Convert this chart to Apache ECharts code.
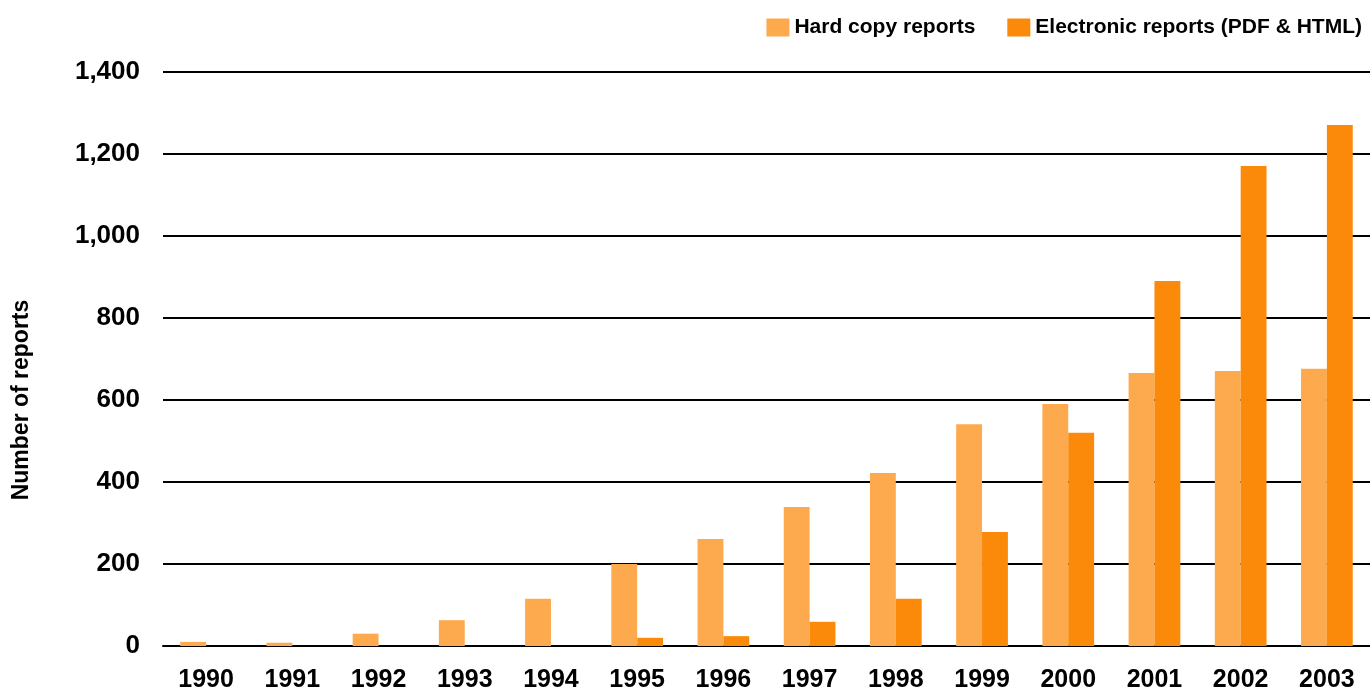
<!DOCTYPE html>
<html><head><meta charset="utf-8">
<script src="https://cdn.jsdelivr.net/npm/echarts@6/dist/echarts.min.js"></script>
<style>html,body{margin:0;padding:0;background:#fff}#c{width:1370px;height:697px}</style>
</head><body><div id="c"></div>
<script>
const years = ['1990','1991','1992','1993','1994','1995','1996','1997','1998','1999','2000','2001','2002','2003'];
const hardCopy = [10, 8, 30, 63, 115, 200, 261, 339, 422, 541, 590, 666, 671, 676];
const electronic = [0, 0, 0, 0, 0, 20, 24, 59, 115, 278, 520, 890, 1171, 1271];
const yTicks = [0, 200, 400, 600, 800, 1000, 1200, 1400];

const FONT = 'Liberation Sans, Arial, sans-serif';
const chart = echarts.init(document.getElementById('c'), null, {renderer:'canvas'});
chart.setOption({
  animation: false,
  backgroundColor: '#fff',
  textStyle: {fontFamily: FONT},
  legend: {
    top: 12, right: 3, itemWidth: 23, itemHeight: 18, itemGap: 32,
    icon: 'rect',
    textStyle: {fontSize: 21, fontWeight: 'bold', color: '#000'},
    data: ['Hard copy reports', 'Electronic reports (PDF & HTML)']
  },
  graphic: [{
    type: 'text', x: 22, y: 400, rotation: Math.PI/2,
    style: {text: 'Number of reports', fontSize: 23, fontWeight: 'bold', fill: '#000', fontFamily: FONT, align: 'center', verticalAlign: 'middle'}
  }],
  grid: {left: 163, width: 1210, top: 72, bottom: 51},
  xAxis: {
    type: 'category', data: years,
    axisLine: {show: true, lineStyle: {color: '#000', width: 2}},
    axisTick: {show: false},
    axisLabel: {fontSize: 25, fontWeight: 'bold', color: '#000', margin: 22}
  },
  yAxis: {
    type: 'value', min: 0, max: 1400, interval: 200,
    axisLine: {show: false}, axisTick: {show: false},
    splitLine: {lineStyle: {color: '#000', width: 2}},
    axisLabel: {fontSize: 26, fontWeight: 'bold', color: '#000', margin: 23,
      formatter: v => yTicks.includes(v) ? v.toLocaleString('en-US') : ''}
  },
  series: [
    {name: 'Hard copy reports', type: 'bar', data: hardCopy, barGap: '0%', barCategoryGap: '40%',
     itemStyle: {color: '#FDAA4F'}},
    {name: 'Electronic reports (PDF & HTML)', type: 'bar', data: electronic,
     itemStyle: {color: '#FB8A0A'}}
  ]
});
</script></body></html>
